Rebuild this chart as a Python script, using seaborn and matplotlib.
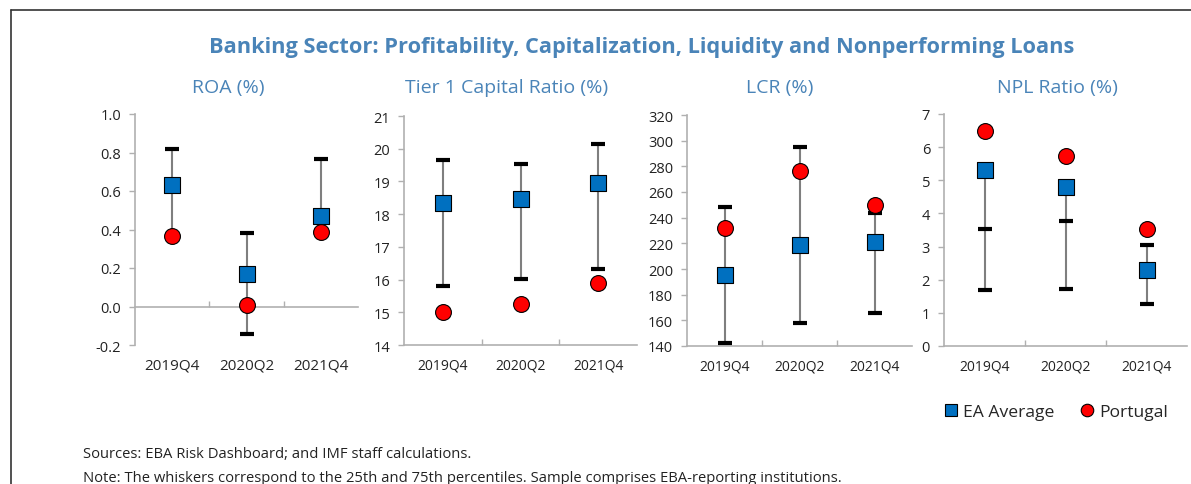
import numpy as np
import pandas as pd
import matplotlib
matplotlib.use("Agg")
import matplotlib.pyplot as plt
from matplotlib.lines import Line2D
import seaborn as sns

quarters = ["2019Q4", "2020Q2", "2021Q4"]
panel_titles = ["ROA (%)", "Tier 1 Capital Ratio (%)", "LCR (%)", "NPL Ratio (%)"]

roa_avg = [0.63, 0.17, 0.47]
roa_pt = [0.365, 0.01, 0.385]
roa_p75 = [0.82, 0.38, 0.765]
roa_p25 = [0.37, -0.145, 0.39]

t1_avg = [18.35, 18.45, 18.95]
t1_pt = [15.02, 15.25, 15.88]
t1_p75 = [19.65, 19.52, 20.15]
t1_p25 = [15.80, 16.02, 16.32]

lcr_avg = [195, 219, 221]
lcr_pt = [232, 276, 250]
lcr_p75 = [248, 295, 244]
lcr_p25 = [142, 158, 166]

npl_avg = [5.32, 4.80, 2.30]
npl_pt = [6.50, 5.72, 3.52]
npl_p75 = [3.52, 3.78, 3.05]
npl_p25 = [1.70, 1.73, 1.27]

panels = [
    (roa_avg, roa_pt, roa_p75, roa_p25, (-0.2, 1.0), np.arange(-0.2, 1.01, 0.2), "{:.1f}"),
    (t1_avg, t1_pt, t1_p75, t1_p25, (14, 21), np.arange(14, 22, 1), "{:.0f}"),
    (lcr_avg, lcr_pt, lcr_p75, lcr_p25, (140, 320), np.arange(140, 321, 20), "{:.0f}"),
    (npl_avg, npl_pt, npl_p75, npl_p25, (0, 7), np.arange(0, 8, 1), "{:.0f}"),
]

sns.set_theme(style="white")
plt.rcParams['font.family'] = ['Open Sans', 'DejaVu Sans']

W, H = 1191, 485
fig = plt.figure(figsize=(W / 100, H / 100), dpi=100)

title_col = "#4a84b8"
blue = "#0070c0"
red = "#ff0000"
axis_col = "#b0b0b0"

# pixel boxes: left, right, top, bottom
boxes = [(135, 358, 115, 346), (404, 637, 117, 346), (687, 912, 116, 347), (944, 1187, 115, 347)]
title_x = [228, 507, 780, 1057]

for i, (avg, pt, p75, p25, ylim, yticks, fmt) in enumerate(panels):
    l, r, t, b = boxes[i]
    ax = fig.add_axes([l / W, 1 - b / H, (r - l) / W, (b - t) / H])
    df = pd.DataFrame({"x": np.arange(3), "avg": avg, "pt": pt, "p75": p75, "p25": p25})
    lo = df[["avg", "p75", "p25"]].min(axis=1)
    hi = df[["avg", "p75", "p25"]].max(axis=1)
    ax.vlines(df["x"], lo, hi, color="#7f7f7f", lw=1.5, zorder=2)
    ax.plot(df["x"], df["p75"], ls="none", marker="_", ms=10.5, mew=3, color="black", zorder=3)
    ax.plot(df["x"], df["p25"], ls="none", marker="_", ms=10.5, mew=3, color="black", zorder=3)
    sns.scatterplot(data=df, x="x", y="avg", marker="s", s=130, color=blue,
                    edgecolor="black", linewidth=0.8, ax=ax, zorder=4)
    sns.scatterplot(data=df, x="x", y="pt", marker="o", s=130, color=red,
                    edgecolor="black", linewidth=0.8, ax=ax, zorder=5)

    ax.set_xlim(-0.5, 2.5)
    ax.set_ylim(*ylim)
    ax.set_yticks(yticks)
    ax.set_yticklabels([fmt.format(v) for v in yticks], fontsize=10.5, color="#222222")
    ax.set_xticks(range(3))
    ax.set_xticklabels(quarters, fontsize=10, color="#222222")
    ax.set_xticks([0.5, 1.5], minor=True)
    ax.set_xlabel("")
    ax.set_ylabel("")
    for s in ["top", "right"]:
        ax.spines[s].set_visible(False)
    for s in ["left", "bottom"]:
        ax.spines[s].set_color(axis_col)
        ax.spines[s].set_linewidth(1.2)
    ax.tick_params(axis="y", direction="out", length=4, width=1, color=axis_col, left=True, pad=6)
    ax.tick_params(axis="x", which="major", length=0, pad=9)
    ax.tick_params(axis="x", which="minor", direction="in", length=4, width=1, color=axis_col, bottom=True)
    if ylim[0] < 0:
        ax.spines["bottom"].set_position(("data", 0))
        ax.tick_params(axis="x", which="major", pad=9 + (b - 308) * 0.72)
    fig.text(title_x[i] / W, 1 - 88 / H, panel_titles[i], ha="center", va="center",
             fontsize=14, color=title_col)

fig.text(642 / W, 1 - 48 / H,
         "Banking Sector: Profitability, Capitalization, Liquidity and Nonperforming Loans",
         ha="center", va="center", fontsize=15.7, fontweight="bold", color=title_col)

handles = [
    Line2D([], [], ls="none", marker="s", ms=8, mfc=blue, mec="black", mew=0.8),
    Line2D([], [], ls="none", marker="o", ms=9, mfc=red, mec="black", mew=0.8),
]
fig.legend(handles, ["EA Average", "Portugal"], loc="center", bbox_to_anchor=(1056 / W, 1 - 413 / H),
           ncol=2, frameon=False, fontsize=12.6, handlelength=0.8, handletextpad=0.3, columnspacing=1.5)

fig.text(83 / W, 1 - 455 / H, "Sources: EBA Risk Dashboard; and IMF staff calculations.",
         ha="left", va="center", fontsize=10.6, color="#222222")
fig.text(83 / W, 1 - 479 / H,
         "Note: The whiskers correspond to the 25th and 75th percentiles. Sample comprises EBA-reporting institutions.",
         ha="left", va="center", fontsize=10.6, color="#222222")

# outer frame
fig.add_artist(Line2D([11 / W, 1.0], [1 - 11 / H, 1 - 11 / H], transform=fig.transFigure, color="#333333", lw=1.2))
fig.add_artist(Line2D([11 / W, 11 / W], [1 - 11 / H, 0.0], transform=fig.transFigure, color="#333333", lw=1.2))

fig.savefig("out.png", dpi=100)
